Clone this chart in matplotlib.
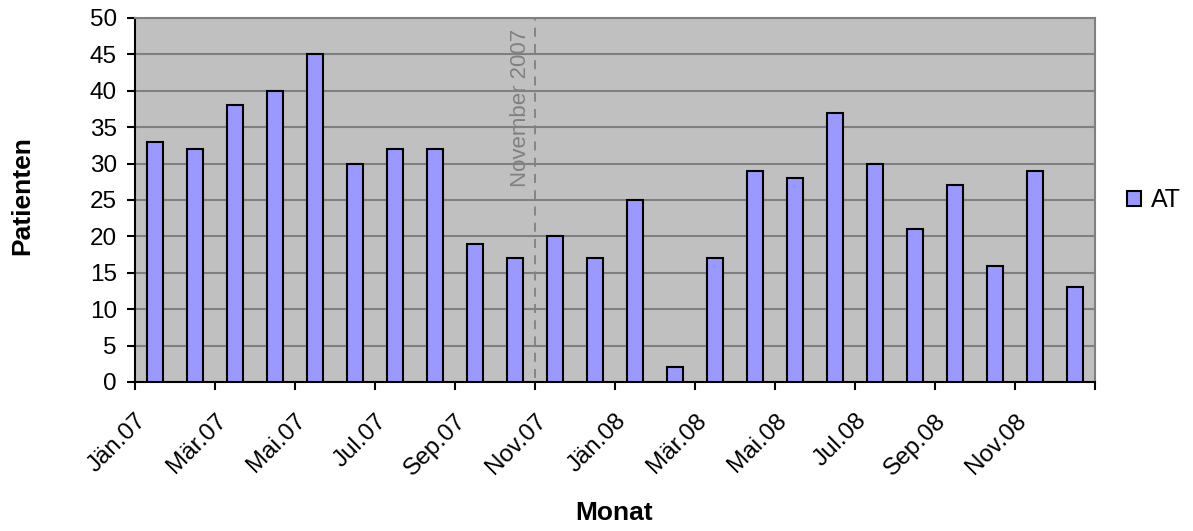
import numpy as np
import matplotlib
matplotlib.use("Agg")
import matplotlib.pyplot as plt

# Monthly patient counts, Jan 2007 - Dec 2008
patients = [33, 32, 38, 40, 45, 30, 32, 32, 19, 17, 20, 17,
            25, 2, 17, 29, 28, 37, 30, 21, 27, 16, 29, 13]
tickLabels = ["Jän.07", "Mär.07", "Mai.07", "Jul.07", "Sep.07", "Nov.07",
              "Jän.08", "Mär.08", "Mai.08", "Jul.08", "Sep.08", "Nov.08", ""]
markerMonth = 10  # November 2007
markerText = "November 2007"
seriesName = "AT"

plt.rcParams['font.family'] = ['Liberation Sans', 'DejaVu Sans']
plt.rcParams['font.size'] = 17

fig = plt.figure(figsize=(11.93, 5.31), dpi=100)
ax = fig.add_axes([135/1193, 1 - 382/531, 960/1193, 364/531])
ax.set_facecolor("#C0C0C0")

xPos = np.arange(len(patients)) + 0.5
ax.bar(xPos, patients, width=0.4, color="#9999FF", edgecolor="black",
       linewidth=1.5, label=seriesName, zorder=3)

ax.set_xlim(0, len(patients))
ax.set_ylim(0, 50)
ax.set_yticks(np.arange(0, 51, 5))
ax.yaxis.grid(True, color="#808080", linewidth=1.5, zorder=1)
ax.set_axisbelow(True)

ax.set_xticks(np.arange(0, len(patients) + 1, 2))
ax.set_xticklabels(tickLabels, rotation=45, ha="right", rotation_mode="anchor")
ax.tick_params(axis="both", direction="out", length=6, width=1.5, color="black",
               labelsize=17.5)
ax.tick_params(axis="y", pad=7)
ax.tick_params(axis="x", pad=14)

for side in ["left", "bottom"]:
    ax.spines[side].set_color("black")
    ax.spines[side].set_linewidth(1.5)
for side in ["top", "right"]:
    ax.spines[side].set_color("#808080")
    ax.spines[side].set_linewidth(1.5)

# marker for November 2007
ax.axvline(markerMonth, ymin=0.01, ymax=1, color="#808080", linestyle=(0, (5, 4)),
           linewidth=1.3, zorder=2)
ax.text(markerMonth - 0.1, 48.5, markerText, rotation=90, ha="right", va="top",
        color="#808080", fontsize=16)

ax.legend(loc="center left", bbox_to_anchor=(1.01, 0.5), frameon=False,
          handlelength=0.55, handleheight=0.55, handletextpad=0.4, fontsize=18)

fig.text(22/1193, 1 - 196/531, "Patienten", rotation=90, ha="center", va="center",
         fontweight="bold", fontsize=19)
fig.text(614/1193, 1 - 513/531, "Monat", ha="center", va="center",
         fontweight="bold", fontsize=19)

plt.savefig("out.png", dpi=100)
